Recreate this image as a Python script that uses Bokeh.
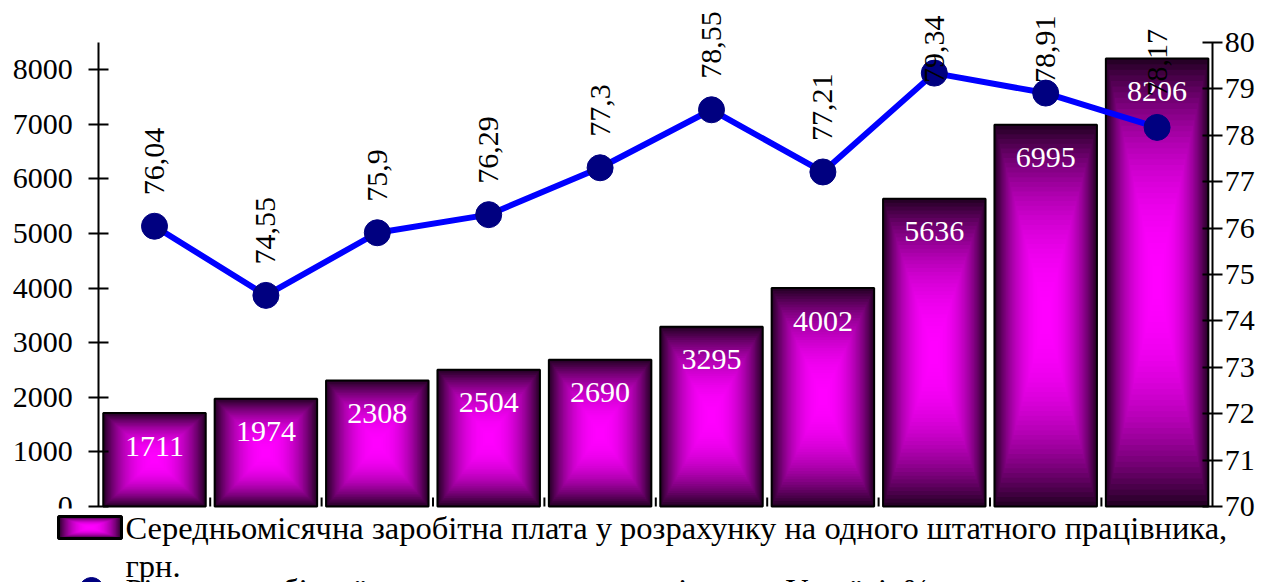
import numpy as np
from bokeh.plotting import figure
from bokeh.models import Range1d, LinearAxis, FixedTicker, BoxAnnotation
from bokeh.core.properties import value
from bokeh.embed import file_html
from bokeh.resources import INLINE

# ---- data ----
categories = ["2005", "2006", "2007", "2008", "2009", "2010", "2011", "2012", "2013", "2014"]
salary = [1711, 1974, 2308, 2504, 2690, 3295, 4002, 5636, 6995, 8206]
level = [76.04, 74.55, 75.9, 76.29, 77.3, 78.55, 77.21, 79.34, 78.91, 78.17]
left_ticks = [0, 1000, 2000, 3000, 4000, 5000, 6000, 7000, 8000]
right_ticks = [70, 71, 72, 73, 74, 75, 76, 77, 78, 79, 80]
legend_bar = "Середньомісячна заробітна плата у розрахунку на одного штатного працівника,"
legend_bar2 = "грн."
legend_line = "Рівень заробітної плати до середнього рівня по Україні, %"

FONT = value("Liberation Serif")

# ---- layout constants (page pixels) ----
OX, OY = 0, 0          # canvas origin on the page
W, H = 1272, 582       # canvas size
X0, DX = 154.0, 111.4  # first category centre, category step
Y0 = 506.0             # baseline (0 / 70)
KL = 464.0 / 8500.0    # px per unit, left axis
KR = 46.4              # px per unit, right axis

def gx(px):
    return (px - X0) / DX

def gy(py):
    return (Y0 - py) / KL

def gr(py):
    return 70 + (Y0 - py) / KR

p = figure(width=W, height=H, output_backend="svg", toolbar_location=None,
           x_range=Range1d(gx(OX), gx(OX + W)), y_range=Range1d(gy(OY + H), gy(OY)),
           x_axis_location=None, y_axis_location=None,
           min_border=0, min_border_left=0, min_border_right=0,
           min_border_top=0, min_border_bottom=0)
p.outline_line_color = None
p.xgrid.visible = False
p.ygrid.visible = False
p.background_fill_color = "white"
p.extra_y_ranges = {"pct": Range1d(gr(OY + H), gr(OY))}

x = np.arange(len(categories), dtype=float)

def grad(t):
    b = 1.0 - 0.87 * t ** 2.2
    c = int(round(255 * b))
    return "#%02x%02x%02x" % (c, 0, c)

# ---- gradient bars (nested rectangles) ----
N = 40
hw = 0.46
L, R, B, T, C = [], [], [], [], []
for k in range(N):
    s = 1 - k / N
    col = grad(s - 0.5 / N)
    for xi, v in zip(x, salary):
        L.append(xi - hw * s)
        R.append(xi + hw * s)
        B.append(v / 2 - v / 2 * s)
        T.append(v / 2 + v / 2 * s)
        C.append(col)
p.quad(left=L, right=R, bottom=B, top=T, fill_color=C, line_color=None)
p.quad(left=x - hw, right=x + hw, bottom=0, top=salary, fill_color=None,
       line_color="black", line_width=2)

# bar labels
p.text(x=x, y=salary, text=[str(v) for v in salary], text_color="white",
       text_font=FONT, text_font_size="30px", text_align="center",
       text_baseline="middle", y_offset=33)

# category tick marks on the baseline
edges = np.arange(len(categories) + 1) - 0.5
p.segment(x0=edges[1:-1], y0=0, x1=edges[1:-1], y1=gy(497), line_color="black", line_width=2)

# ---- line ----
p.line(x=x, y=level, y_range_name="pct", line_color="#0000ff", line_width=6)
p.scatter(x=x, y=level, y_range_name="pct", size=26, fill_color="#000080",
          line_color="#000080")

lab = [("%g" % v).replace(".", ",") for v in level]
top_limit = gr(6)
norm = [i for i, v in enumerate(level) if v + (31 + 70) / KR <= top_limit]
clmp = [i for i in range(len(level)) if i not in norm]
p.text(x=[x[i] for i in norm], y=[level[i] for i in norm], text=[lab[i] for i in norm],
       y_range_name="pct", angle=np.pi / 2, text_align="left", text_baseline="middle",
       y_offset=-31, text_font=FONT, text_font_size="30px", text_color="black")
p.text(x=[x[i] for i in clmp], y=[gr(15)] * len(clmp), text=[lab[i] for i in clmp],
       y_range_name="pct", angle=np.pi / 2, text_align="right", text_baseline="middle",
       text_font=FONT, text_font_size="30px", text_color="black")

# ---- axes ----
def style(ax, standoff):
    ax.axis_line_color = "black"
    ax.axis_line_width = 2
    ax.major_tick_line_color = "black"
    ax.major_tick_line_width = 2
    ax.major_tick_in = 10
    ax.major_tick_out = 10
    ax.minor_tick_line_color = None
    ax.major_label_text_font = "Liberation Serif"
    ax.major_label_text_font_size = "30px"
    ax.major_label_text_color = "black"
    ax.major_label_standoff = standoff

ly = LinearAxis(ticker=FixedTicker(ticks=left_ticks), bounds=(0, 8500),
                fixed_location=gx(98.3))
style(ly, 16)
p.add_layout(ly, "left")
ry = LinearAxis(y_range_name="pct", ticker=FixedTicker(ticks=right_ticks), bounds=(70, 80),
                fixed_location=gx(1212.3))
style(ry, 2)
p.add_layout(ry, "right")

# ---- legend area ----
p.add_layout(BoxAnnotation(left=gx(30), right=gx(1224), top=gy(508), bottom=gy(OY + H + 5),
                           fill_color="white", fill_alpha=1.0, line_color=None))

sx0, sx1, sy0, sy1 = 58, 121, 516, 538
cxs, cys = (sx0 + sx1) / 2, (sy0 + sy1) / 2
Ls, Rs, Bs, Ts, Cs = [], [], [], [], []
for k in range(N):
    s = 1 - k / N
    Ls.append(gx(cxs - (cxs - sx0) * s))
    Rs.append(gx(cxs + (cxs - sx0) * s))
    Bs.append(gy(cys + (cys - sy0) * s))
    Ts.append(gy(cys - (cys - sy0) * s))
    Cs.append(grad(s - 0.5 / N))
p.quad(left=Ls, right=Rs, bottom=Bs, top=Ts, fill_color=Cs, line_color=None, level="overlay")
p.quad(left=[gx(sx0)], right=[gx(sx1)], bottom=[gy(sy1)], top=[gy(sy0)], fill_color=None,
       line_color="black", line_width=3, level="overlay")
p.text(x=[gx(125), gx(125)], y=[gy(527), gy(565)], text=[legend_bar, legend_bar2],
       text_font=FONT, text_font_size="32.5px", text_color="black",
       text_baseline="middle", text_align="left", level="overlay")
p.scatter(x=[gx(91)], y=[gy(589)], size=24, fill_color="#000080", line_color="#000080",
          level="overlay")
p.text(x=[gx(125)], y=[gy(589)], text=[legend_line], text_font=FONT, text_font_size="32.5px",
       text_color="black", text_baseline="middle", text_align="left", level="overlay")

open("out.html", "w").write(file_html(p, INLINE))
